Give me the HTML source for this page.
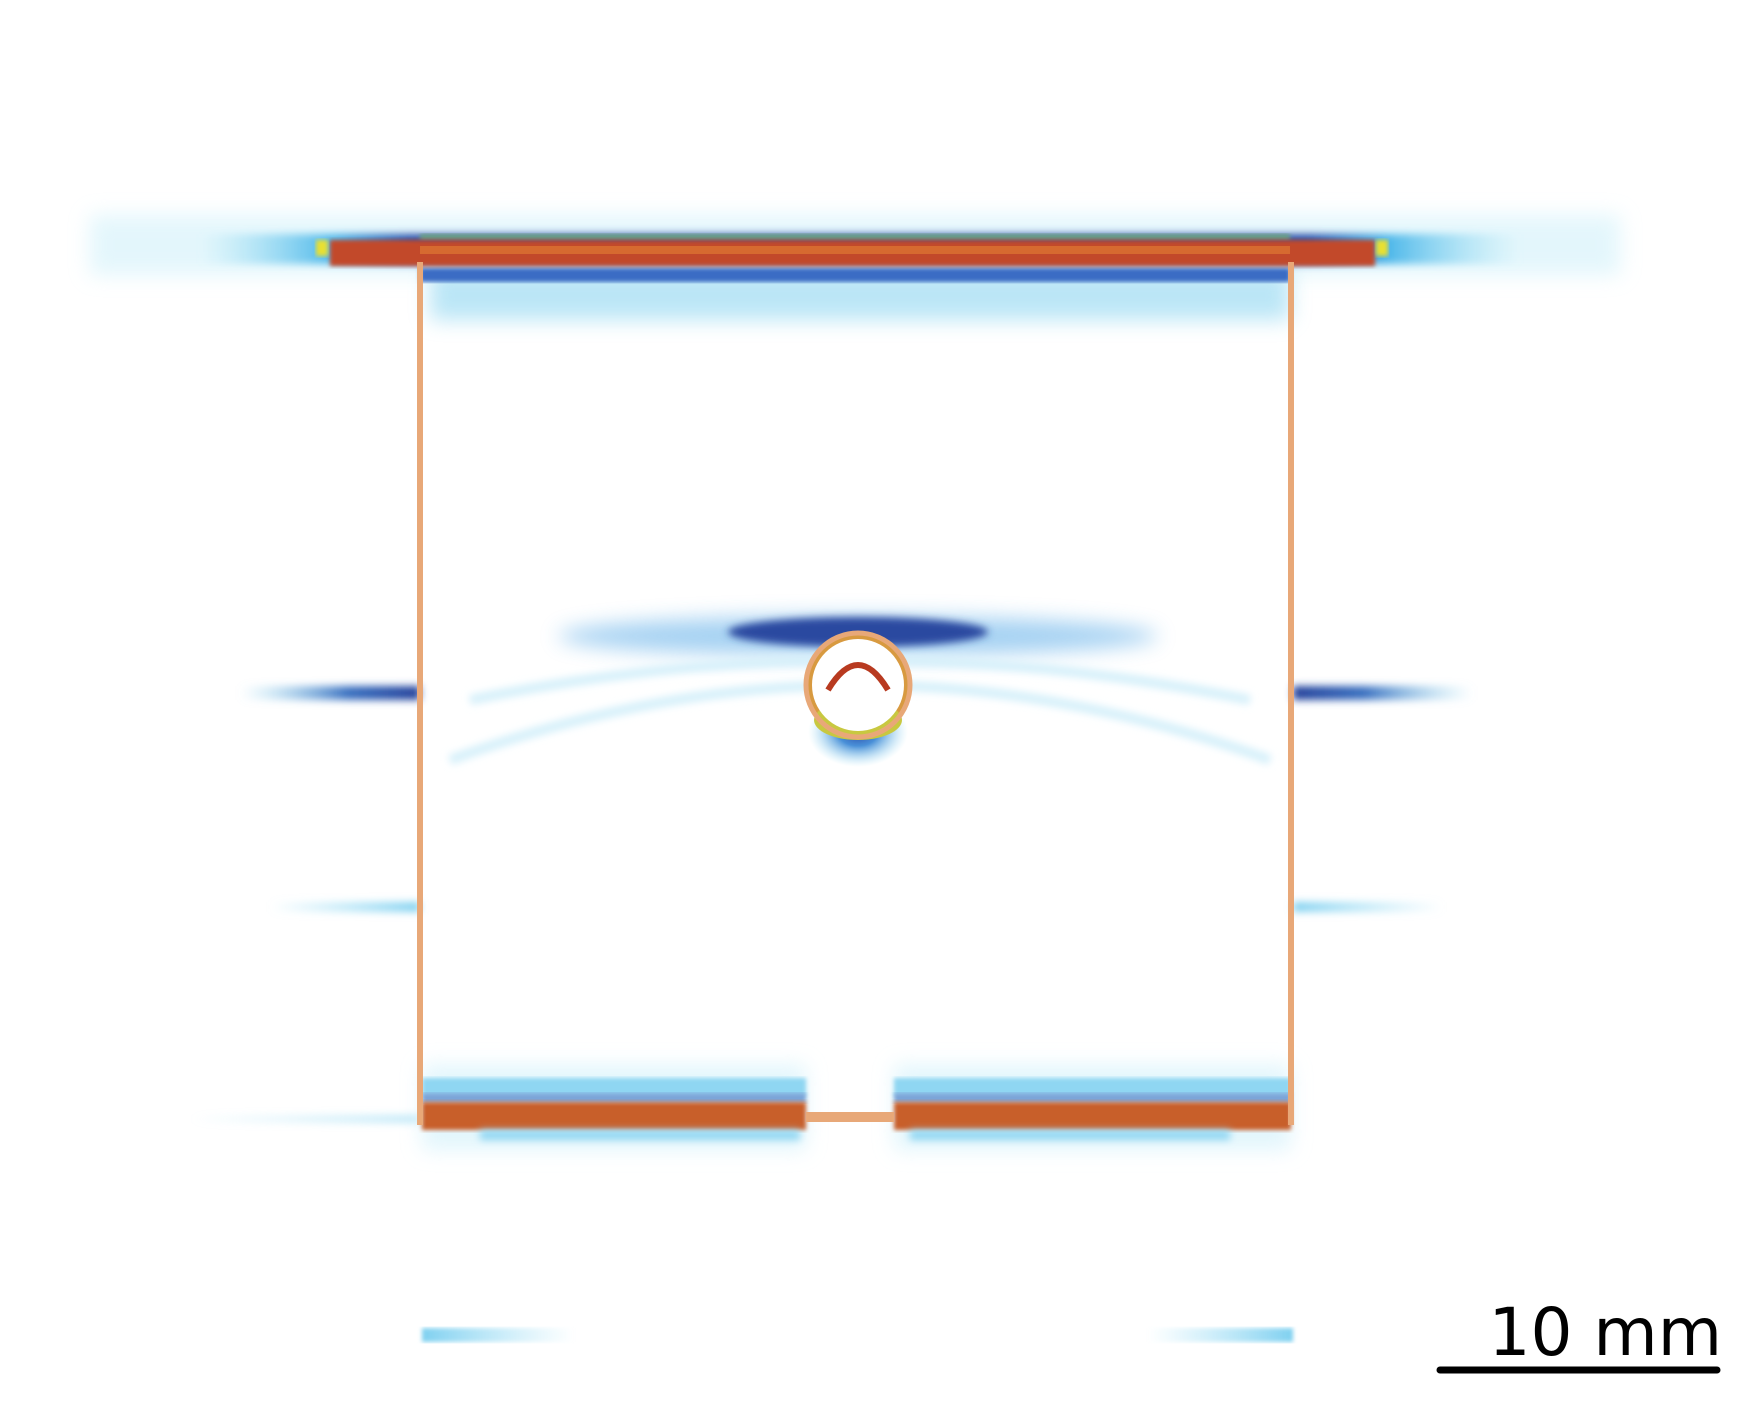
<!DOCTYPE html>
<html><head><meta charset="utf-8"><style>
html,body{margin:0;padding:0;background:#fff;}
svg{display:block;}
</style></head><body>
<svg width="1757" height="1410" viewBox="0 0 1757 1410">
<defs>
<filter id="b4" x="-20%" y="-200%" width="140%" height="500%"><feGaussianBlur stdDeviation="4"/></filter>
<filter id="b10" x="-20%" y="-300%" width="140%" height="700%"><feGaussianBlur stdDeviation="10"/></filter>
<filter id="b2"><feGaussianBlur stdDeviation="2"/></filter>
<linearGradient id="hfade" x1="0" x2="1" y1="0" y2="0">
<stop offset="0" stop-color="#8fdcf2" stop-opacity="0"/><stop offset="0.1" stop-color="#4fb8ea"/><stop offset="0.16" stop-color="#2a4fa8"/><stop offset="0.84" stop-color="#2a4fa8"/><stop offset="0.9" stop-color="#4fb8ea"/><stop offset="1" stop-color="#8fdcf2" stop-opacity="0"/>
</linearGradient>
<linearGradient id="lfade" x1="0" x2="1"><stop offset="0" stop-color="#7fd2f0" stop-opacity="0"/><stop offset="0.6" stop-color="#3a70c0"/><stop offset="1" stop-color="#22409a"/></linearGradient>
<linearGradient id="rfade" x1="1" x2="0"><stop offset="0" stop-color="#7fd2f0" stop-opacity="0"/><stop offset="0.6" stop-color="#3a70c0"/><stop offset="1" stop-color="#22409a"/></linearGradient>
<linearGradient id="llight" x1="0" x2="1"><stop offset="0" stop-color="#9fe0f5" stop-opacity="0"/><stop offset="1" stop-color="#7fd0f0"/></linearGradient>
<linearGradient id="rlight" x1="1" x2="0"><stop offset="0" stop-color="#9fe0f5" stop-opacity="0"/><stop offset="1" stop-color="#7fd0f0"/></linearGradient>
<radialGradient id="halo" cx="0.5" cy="0.5" r="0.5"><stop offset="0" stop-color="#2a4aa8"/><stop offset="0.4" stop-color="#4a90d8"/><stop offset="1" stop-color="#a8e4f6" stop-opacity="0"/></radialGradient>
</defs>

<g>
<rect x="90" y="215" width="1530" height="60" fill="#c8eef9" opacity="0.5" filter="url(#b10)"/>
<rect x="430" y="270" width="860" height="50" fill="#9fdcf3" opacity="0.7" filter="url(#b10)"/>
<rect x="200" y="234" width="1320" height="30" fill="url(#hfade)" filter="url(#b4)"/>
<rect x="420" y="268" width="870" height="14" fill="#3a6cc4" filter="url(#b2)"/>
<rect x="420" y="234" width="870" height="6" fill="#6aa080" filter="url(#b2)"/>
<rect x="330" y="240" width="1045" height="26" fill="#c24a2c" filter="url(#b2)"/>
<rect x="420" y="246" width="870" height="8" fill="#d66a30"/>
<rect x="316" y="240" width="12" height="16" fill="#e8e030" filter="url(#b2)"/>
<rect x="1376" y="240" width="12" height="16" fill="#e8e030" filter="url(#b2)"/>
</g>

<g>
<ellipse cx="858" cy="636" rx="300" ry="20" fill="#6ab4ea" opacity="0.6" filter="url(#b10)"/>
<ellipse cx="858" cy="632" rx="130" ry="15" fill="#2a48a0" filter="url(#b4)"/>
<path d="M450 760 Q858 610 1270 760" stroke="#d6f0fa" stroke-width="10" fill="none" filter="url(#b4)"/>
<path d="M470 700 Q858 620 1250 700" stroke="#d6f0fa" stroke-width="10" fill="none" filter="url(#b4)"/>
<ellipse cx="858" cy="732" rx="50" ry="35" fill="url(#halo)"/>
<ellipse cx="858" cy="685" rx="52" ry="52" fill="#d89a40"/>
<ellipse cx="858" cy="720" rx="44" ry="20" fill="#c8c840"/>
<ellipse cx="858" cy="685" rx="46" ry="46" fill="#fff"/>
<ellipse cx="858" cy="685" rx="52" ry="52" fill="none" stroke="#e8a878" stroke-width="5"/>
<path d="M828 690 Q858 640 888 690" stroke="#b83a20" stroke-width="6" fill="none"/>
</g>

<g>
<rect x="240" y="686" width="180" height="14" fill="url(#lfade)" filter="url(#b4)"/>
<rect x="1293" y="686" width="180" height="14" fill="url(#rfade)" filter="url(#b4)"/>
<rect x="270" y="902" width="150" height="10" fill="url(#llight)" filter="url(#b4)"/>
<rect x="1293" y="902" width="150" height="10" fill="url(#rlight)" filter="url(#b4)"/>
<rect x="190" y="1115" width="230" height="8" fill="url(#llight)" opacity="0.5" filter="url(#b4)"/>
</g>

<g>
<rect x="422" y="1065" width="384" height="85" fill="#d6f2fb" opacity="0.7" filter="url(#b10)"/>
<rect x="894" y="1065" width="397" height="85" fill="#d6f2fb" opacity="0.7" filter="url(#b10)"/>
<rect x="422" y="1078" width="384" height="18" fill="#8fd6f2" filter="url(#b2)"/>
<rect x="894" y="1078" width="397" height="18" fill="#8fd6f2" filter="url(#b2)"/>
<rect x="422" y="1093" width="384" height="10" fill="#7aa4d8" filter="url(#b2)"/>
<rect x="894" y="1093" width="397" height="10" fill="#7aa4d8" filter="url(#b2)"/>
<rect x="422" y="1102" width="384" height="28" fill="#c85e2c" filter="url(#b2)"/>
<rect x="894" y="1102" width="397" height="28" fill="#c85e2c" filter="url(#b2)"/>
<rect x="480" y="1130" width="320" height="10" fill="#8fd6f2" filter="url(#b4)"/>
<rect x="910" y="1130" width="320" height="10" fill="#8fd6f2" filter="url(#b4)"/>
</g>

<rect x="422" y="1328" width="152" height="14" fill="url(#rlight)" filter="url(#b2)"/>
<rect x="1148" y="1328" width="145" height="14" fill="url(#llight)" filter="url(#b2)"/>

<g stroke="#e8a878" stroke-width="6" fill="none">
<line x1="420" y1="262" x2="420" y2="1125"/>
<line x1="1291" y1="262" x2="1291" y2="1125"/>
<line x1="806" y1="1117" x2="894" y2="1117" stroke-width="10"/>
</g>

<g>
<line x1="1440" y1="1370" x2="1717" y2="1370" stroke="#000" stroke-width="7" stroke-linecap="round"/>
<text x="1722" y="1355" text-anchor="end" font-family="DejaVu Sans, sans-serif" font-size="66" fill="#000">10 mm</text>
</g>
</svg>
</body></html>
